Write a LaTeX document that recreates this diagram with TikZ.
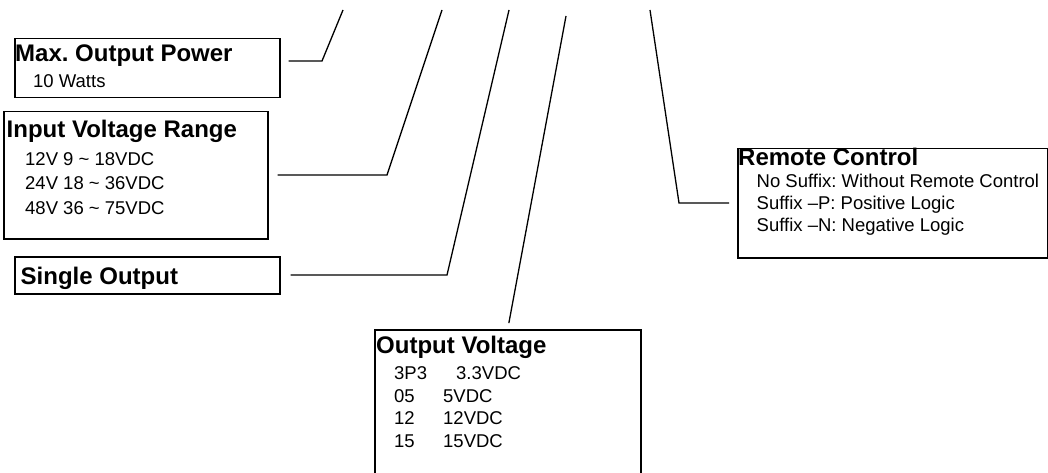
\documentclass[tikz,border=0pt]{standalone}
\usepackage{fontspec}
\setmainfont{Liberation Sans}
\usepackage{tikz}
\usetikzlibrary{positioning}
\frenchspacing

\begin{document}
\begin{tikzpicture}[x=1pt, y=-1pt,
    box/.style={draw, line width=1.5pt, inner sep=0pt, anchor=north west},
    wire/.style={line width=1.3pt},
    head/.style={anchor=base west, inner sep=0pt, font=\fontsize{24}{28}\selectfont\bfseries},
    % multi-line bodies are placed at the baseline of their last line
    body/.style={anchor=base west, inner sep=0pt, align=left, font=\fontsize{18.5}{#1}\selectfont},
    body/.default=24.5]
  \useasboundingbox (0,0) rectangle (1048,473);
  \clip (0,0) rectangle (1048,473);

  % Boxes (pixel coordinates, y pointing down)
  \node[box, minimum width=265pt, minimum height=59pt]  (power)  at (14,38)  {};
  \node[box, minimum width=264pt, minimum height=127pt] (input)  at (3,111)  {};
  \node[box, minimum width=265pt, minimum height=37pt]  (single) at (14,256) {};
  \node[box, minimum width=266pt, minimum height=170pt] (volt)   at (374,329) {};
  \node[box, minimum width=310pt, minimum height=109pt] (remote) at (737,148) {};

  % Box texts
  \node[head] (power-head) at (15,62) {Max. Output Power};
  \node[body] (power-body) at (33,88) {10 Watts};
  \node[head] (input-head) at (6.5,138) {Input Voltage Range};
  \node[body=24.5] (input-body) at (25,214)
    {12V 9 \textasciitilde{} 18VDC\\24V 18 \textasciitilde{} 36VDC\\48V 36 \textasciitilde{} 75VDC};
  \node[head] (single-head) at (20.5,284) {Single Output};
  \node[head] (volt-head) at (376,353) {Output Voltage};
  \node[body=22.5] (volt-body) at (394,447)
    {\makebox[62pt][l]{3P3}3.3VDC\\\makebox[49pt][l]{05}5VDC\\
     \makebox[49pt][l]{12}12VDC\\\makebox[49pt][l]{15}15VDC};
  \node[head] (remote-head) at (738,166) {Remote Control};
  \node[body=22] (remote-body) at (756.5,231)
    {No Suffix: Without Remote Control\\Suffix –P: Positive Logic\\Suffix –N: Negative Logic};

  % Connectors up to the part number (off the top edge)
  \coordinate (power-top)  at (343,10);
  \coordinate (power-bend) at (322,61);
  \coordinate (input-top)  at (442,10);
  \coordinate (input-bend) at (387,175);
  \coordinate (single-top)  at (509,10);
  \coordinate (single-bend) at (447,275);
  \coordinate (volt-top)   at (566,16);
  \coordinate (remote-top)  at (650,10);
  \coordinate (remote-bend) at (679,203);

  \draw[wire, shorten <=8pt]  (power.east |- power-bend) -- (power-bend) -- (power-top);
  \draw[wire, shorten <=9pt]  (input.east |- input-bend) -- (input-bend) -- (input-top);
  \draw[wire, shorten <=10pt] (single.east |- single-bend) -- (single-bend) -- (single-top);
  \draw[wire, shorten >=6pt]  (volt-top) -- (volt.north);
  \draw[wire, shorten >=8pt]  (remote-top) -- (remote-bend) -- (remote.west |- remote-bend);
\end{tikzpicture}
\end{document}
